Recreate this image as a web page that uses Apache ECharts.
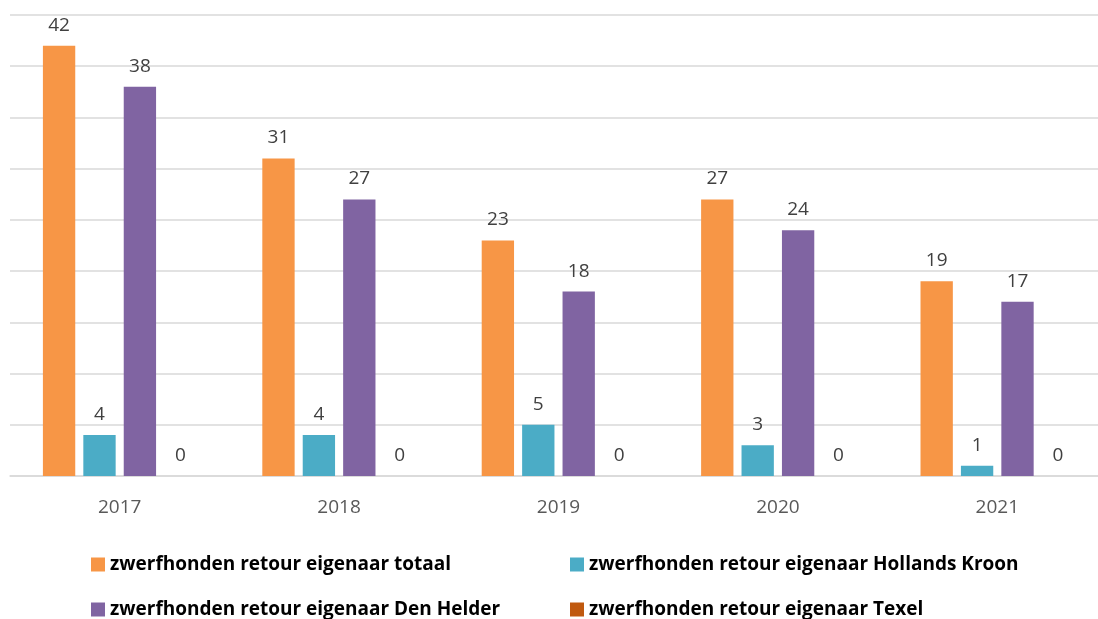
<!DOCTYPE html>
<html>
<head>
<meta charset="utf-8">
<script src="https://cdn.jsdelivr.net/npm/echarts@6/dist/echarts.min.js"></script>
<style>
  html, body { margin: 0; padding: 0; background: #fff; overflow: hidden; }
  #chart { width: 1112px; height: 619px; }
</style>
</head>
<body>
<div id="chart"></div>
<script>
// data
const years = ['2017', '2018', '2019', '2020', '2021']
const seriesNames = [
  'zwerfhonden retour eigenaar totaal',
  'zwerfhonden retour eigenaar Hollands Kroon',
  'zwerfhonden retour eigenaar Den Helder',
  'zwerfhonden retour eigenaar Texel'
]
const totaal = [42, 31, 23, 27, 19]
const hollandsKroon = [4, 4, 5, 3, 1]
const denHelder = [38, 27, 18, 24, 17]
const texel = [0, 0, 0, 0, 0]

const colors = ['#F79646', '#4BACC6', '#8064A2', '#C0590F']
const values = [totaal, hollandsKroon, denHelder, texel]

const chart = echarts.init(document.getElementById('chart'))

// one legend per item so they sit in a 2x2 block
const legendPos = [
  { left: 86, top: 550 },
  { left: 565, top: 550 },
  { left: 86, top: 595 },
  { left: 565, top: 595 }
]
const legends = seriesNames.map((name, i) => ({
  data: [name],
  left: legendPos[i].left,
  top: legendPos[i].top,
  icon: 'rect',
  itemWidth: 14,
  itemHeight: 14,
  itemGap: 4,
  textStyle: {
    fontFamily: 'Open Sans',
    fontWeight: 'bold',
    fontSize: 19,
    color: '#000'
  }
}))

const option = {
  animation: false,
  color: colors,
  legend: legends,
  grid: { left: 10, top: 15, width: 1097, height: 461, containLabel: false },
  xAxis: {
    type: 'category',
    data: years,
    axisLine: { lineStyle: { color: '#d9d9d9', width: 1.5 } },
    axisTick: { show: false },
    axisLabel: { fontFamily: 'Open Sans', fontSize: 19, color: '#595959', margin: 22 }
  },
  yAxis: {
    type: 'value',
    min: 0,
    max: 45,
    interval: 5,
    axisLabel: { show: false },
    axisLine: { show: false },
    axisTick: { show: false },
    splitLine: { lineStyle: { color: '#d9d9d9', width: 1.5 } }
  },
  series: values.map((data, i) => ({
    name: seriesNames[i],
    type: 'bar',
    data: data,
    barGap: '25%',
    barCategoryGap: '30%',
    label: {
      show: true,
      position: 'top',
      distance: 11,
      fontFamily: 'Open Sans',
      fontSize: 19,
      color: '#404040'
    }
  }))
}

chart.setOption(option)
</script>
</body>
</html>
